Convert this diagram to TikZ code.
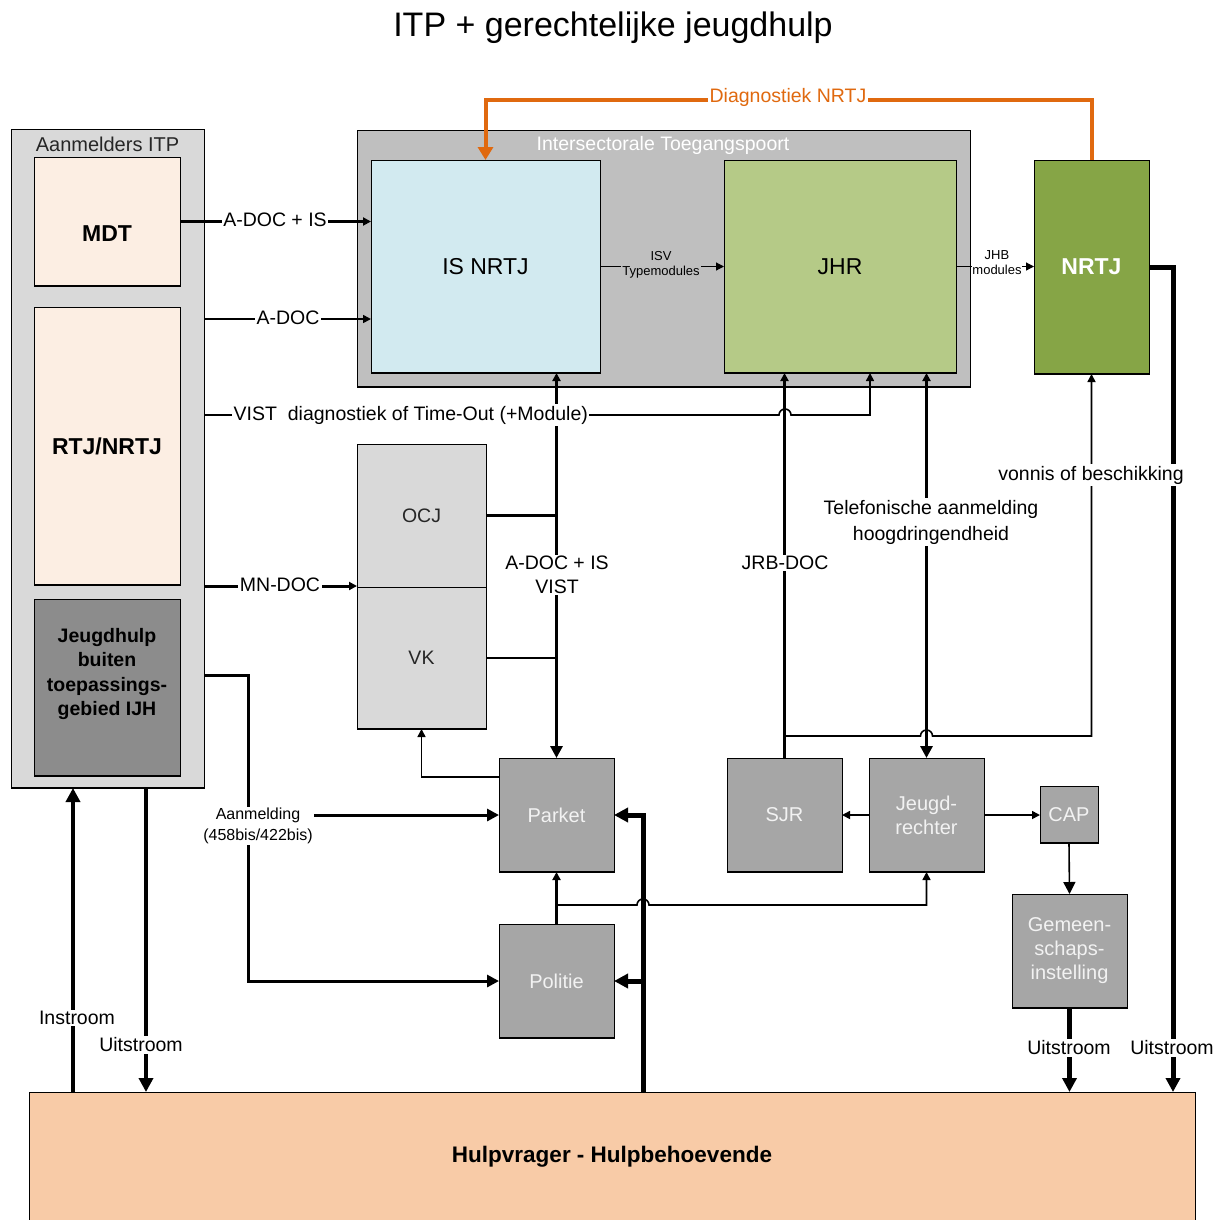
\documentclass[tikz,border=0pt]{standalone}
\usepackage{fontspec}
\setmainfont{Liberation Sans}
\usetikzlibrary{arrows.meta,calc}
\definecolor{grpgray}{HTML}{D9D9D9}
\definecolor{itpgray}{HTML}{BFBFBF}
\definecolor{peach}{HTML}{FCEEE3}
\definecolor{isblue}{HTML}{D2EAF0}
\definecolor{jhrgreen}{HTML}{B5CA87}
\definecolor{nrtjgreen}{HTML}{86A546}
\definecolor{boxgray}{HTML}{A6A6A6}
\definecolor{darkbox}{HTML}{8C8C8C}
\definecolor{hulpfill}{HTML}{F8CBA7}
\definecolor{orangec}{HTML}{E0690F}
\definecolor{txtgray}{HTML}{262626}
\newcommand\mkbox[7]{\node[box,#6,minimum width={(#4-#2)*1pt},minimum height={(#5-#3)*1pt}] (#1) at ({(#2+#4)/2},{(#3+#5)/2}) {#7};}
\newcommand\botline[1]{\draw[line width=2.5pt] (#1.south west) -- (#1.south east);}
\newcommand\fs[2]{\fontsize{#1}{#2}\selectfont}
\begin{document}
\begin{tikzpicture}[x=1pt,y=-1pt,
  box/.style={draw=black,line width=0.9pt,inner sep=0pt,outer sep=0pt,align=center,rectangle},
  lbl/.style={fill=white,inner sep=1.5pt,align=center,font=\fs{19.5}{24}},
  small/.style={font=\fs{13}{15}},
  ln/.style={line width=1.6pt},
  lnb/.style={line width=3pt},
  lnx/.style={line width=5pt},
  sarr/.tip={Triangle[length=8pt,width=8pt]},
  marr/.tip={Triangle[length=12pt,width=12pt]},
  larr/.tip={Triangle[length=14pt,width=14pt]},
  white label/.style={text=white!95!black,font=\fs{20}{24}}]
\useasboundingbox (0,0) rectangle (1231,1219);
% title
\node[font=\fs{34}{40}] (title) at (613,28) {ITP + gerechtelijke jeugdhulp};
% left group
\mkbox{grp}{11}{129}{204}{788}{fill=grpgray}{}
\botline{grp}
\node[font=\fs{20}{24},text=txtgray] (grplbl) at (107.5,144) {Aanmelders ITP};
\mkbox{mdt}{34}{157}{180}{286}{fill=peach}{}
\botline{mdt}
\node[font=\fs{23}{26}\bfseries] (mdtlbl) at (107,234) {MDT};
\mkbox{rtj}{34}{307}{180}{585}{fill=peach,font=\fs{23}{26}\bfseries}{RTJ/NRTJ}
\botline{rtj}
\mkbox{jh}{34}{599}{180}{776}{fill=darkbox}{}
\botline{jh}
\node[font=\fs{19.5}{24.3}\bfseries,align=center] (jhlbl) at (107,674) {Jeugdhulp\\buiten\\toepassings-\\gebied IJH};
% ITP
\mkbox{itp}{357}{130}{970}{387}{fill=itpgray}{}
\botline{itp}
\node[font=\fs{19.5}{24},text=white] (itplbl) at (663,145) {Intersectorale Toegangspoort};
\mkbox{isn}{371}{160}{600}{373}{fill=isblue,font=\fs{23}{26}}{IS NRTJ}
\botline{isn}
\mkbox{jhr}{724}{160}{956}{373}{fill=jhrgreen,font=\fs{23}{26}}{JHR}
\botline{jhr}
\mkbox{nrtj}{1034}{160}{1149}{374}{fill=nrtjgreen,text=white,font=\fs{23}{26}\bfseries}{NRTJ}
\botline{nrtj}
% OCJ / VK
\mkbox{ocj}{357}{444}{486}{587}{fill=grpgray,text=txtgray,font=\fs{19.5}{24}}{OCJ}
\mkbox{vk}{357}{587}{486}{729}{fill=grpgray,text=txtgray,font=\fs{19.5}{24}}{VK}
\botline{vk}
% gray boxes
\mkbox{parket}{499}{758}{614}{872}{fill=boxgray,white label}{Parket}
\botline{parket}
\mkbox{politie}{499}{924}{614}{1038}{fill=boxgray,white label}{Politie}
\botline{politie}
\mkbox{sjr}{727}{758}{842}{872}{fill=boxgray,white label}{SJR}
\botline{sjr}
\mkbox{jr}{869}{758}{984}{872}{fill=boxgray,white label}{Jeugd-\\rechter}
\botline{jr}
\mkbox{cap}{1040}{786}{1098}{843}{fill=boxgray,white label}{CAP}
\botline{cap}
\mkbox{gem}{1012}{894}{1127}{1008}{fill=boxgray,white label}{Gemeen-\\schaps-\\instelling}
\botline{gem}
\mkbox{hulp}{29}{1092}{1195}{1222}{fill=hulpfill,font=\fs{22.5}{24}\bfseries}{Hulpvrager - Hulpbehoevende}

% ---------- connectors ----------
% orange Diagnostiek NRTJ
\coordinate (o1) at (1091.5,100);
\coordinate (o2) at (485.5,100);
\draw[line width=4pt,draw=orangec,-{Triangle[length=13pt,width=15pt]}] (nrtj.north) -- (o1) -- (o2) -- (isn.north);
% A-DOC + IS
\draw[lnb,-sarr] (mdt.east) -- (isn.west |- mdt.east);
% A-DOC
\coordinate (a2) at (204,319);
\draw[ln,-sarr] (a2) -- (isn.west |- a2);
% VIST line
\coordinate (v1) at (204,415);
\coordinate (v2) at (870,415);
\draw[ln,-sarr] (v1) -- (779,415) arc[start angle=180,end angle=0,radius=6pt] -- (v2) -- (v2 |- jhr.south);
% MN-DOC
\coordinate (m1) at (204,586);
\draw[lnb,-sarr] (m1) -- (m1 -| vk.west);
% vertical A-DOC + IS / VIST
\draw[line width=3.5pt,sarr-marr] (parket.north |- isn.south) -- (parket.north);
\draw[lnb] (ocj.east) -- (ocj.east -| parket.north);
\draw[ln] (vk.east) -- (vk.east -| parket.north);
% Parket -> VK
\coordinate (p1) at (499,777);
\draw[ln,-sarr] (p1) -| (vk.south);
% Aanmelding
\coordinate (aa) at (204,675);
\coordinate (ab) at (248,675);
\draw[lnb,-marr] (aa) -- (ab) |- (politie.west);
\draw[lnb,-marr] (ab |- parket.west) -- (parket.west);
% Politie -> Parket and -> Jeugdrechter
\draw[lnb,-sarr] (politie.north) -- (parket.south);
\coordinate (pj) at (556.5,905);
\draw[ln,-sarr] (pj) -- (637,905) arc[start angle=180,end angle=0,radius=6pt] -- (pj -| jr.south) -- (jr.south);
% thick line from Hulpvrager
\coordinate (t1) at (643,815);
\coordinate (t2) at (643,981);
\draw[lnx,-larr] (hulp.north -| t1) -- (t1) -- (parket.east);
\draw[lnx,-larr] (t2) -- (politie.east);
% SJR -> JHR (JRB-DOC)
\draw[lnb,-sarr] (sjr.north) -- (sjr.north |- jhr.south);
\coordinate (s1) at (784.5,736);
\coordinate (s2) at (1091.5,736);
\draw[ln,-sarr] (s1) -- (920.5,736) arc[start angle=180,end angle=0,radius=6pt] -- (s2) -- (nrtj.south);
% Telefonische aanmelding
\draw[line width=3.5pt,sarr-marr] (jr.north |- jhr.south) -- (jr.north);
% Jeugdrechter -> SJR, CAP ; CAP -> Gemeenschapsinstelling
\draw[ln,-sarr] (jr.west) -- (sjr.east);
\draw[ln,-sarr] (jr.east) -- (cap.west |- jr.east);
\draw[ln,-marr] (cap.south) -- (gem.north);
% Uitstroom
\draw[lnx,-larr] (gem.south) -- (gem.south |- hulp.north);
\coordinate (n1) at (1173,267);
\draw[lnx,-larr] (nrtj.east) -- (n1) -- (n1 |- hulp.north);
\coordinate (i1) at (73,788);
\coordinate (u1) at (146,788);
\draw[line width=4.5pt,-larr] (i1 |- hulp.north) -- (i1);
\draw[line width=4.5pt,-larr] (u1) -- (u1 |- hulp.north);
% ISV / JHB
\draw[line width=1.2pt,-sarr] (isn.east) -- (jhr.west);
\draw[line width=1.2pt,-sarr] (jhr.east) -- (nrtj.west |- jhr.east);

% ---------- labels ----------
\node[lbl,text=orangec] (ldiag) at (788,97) {Diagnostiek NRTJ};
\node[lbl] (l1) at (275,220) {A-DOC + IS};
\node[lbl] (l2) at (288,318) {A-DOC};
\node[lbl,anchor=west] (l3) at (232,415) {VIST\ \ diagnostiek of Time-Out (+Module)};
\node[lbl] (l4) at (280,585) {MN-DOC};
\node[lbl] (l5) at (557,575) {A-DOC + IS\\VIST};
\node[lbl] (l6) at (785,563) {JRB-DOC};
\node[lbl,font=\fs{19.5}{26}] (l7) at (931,522) {Telefonische aanmelding\\hoogdringendheid};
\node[lbl] (l8) at (1091,475) {vonnis of beschikking};
\node[lbl,font=\fs{16}{21}] (l9) at (258,826) {Aanmelding\\(458bis/422bis)};
\node[lbl] (l10) at (77,1018) {Instroom};
\node[lbl] (l11) at (141,1045) {Uitstroom};
\node[lbl] (l12) at (1069,1048) {Uitstroom};
\node[lbl] (l13) at (1172,1048) {Uitstroom};
\node[lbl,small,fill=itpgray] (l14) at (661,265) {ISV\\Typemodules};
\node[lbl,small,inner sep=0.5pt] (l15) at (997,263) {JHB\\modules};
\end{tikzpicture}
\end{document}
